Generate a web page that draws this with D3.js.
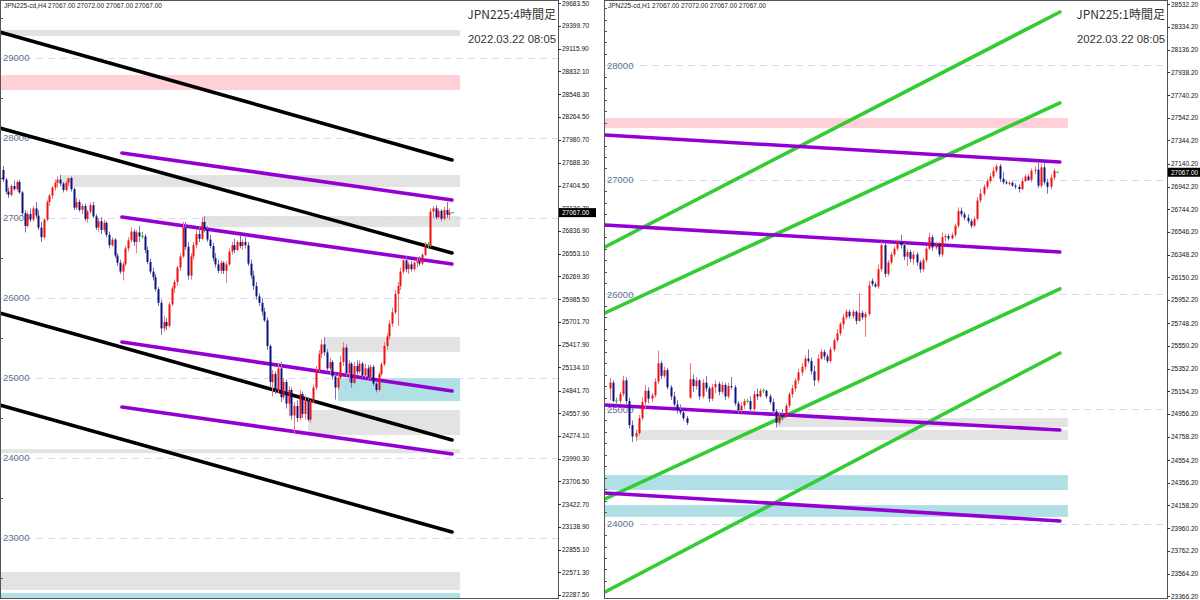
<!DOCTYPE html>
<html><head><meta charset="utf-8">
<script src="https://cdn.jsdelivr.net/npm/d3@7"></script>
<style>html,body{margin:0;padding:0;background:#fff;overflow:hidden}svg{display:block}</style>
</head><body>
<svg id="c" width="1200" height="600"></svg>
<script>
// ---------------- H4 panel data ----------------
const h4Open = [27600,27480,27330,27290,27400,27360,27450,27320,27060,26900,27050,26980,27120,27030,26880,26760,26980,27200,
27280,27380,27440,27480,27430,27350,27440,27500,27360,27130,27200,27100,27150,26990,27080,27160,27020,26880,
26960,26850,26940,26790,26660,26730,26530,26440,26330,26420,26620,26720,26830,26700,26820,26770,26770,26600,26450,26330,26260,26110,25940,
25620,25700,25650,25920,26120,26200,26380,26520,26880,26640,26280,26520,26660,26800,26740,26950,26860,26730,26650,26500,26420,26340,26440,26340,26420,26580,26660,26600,26700,
26650,26700,26660,26430,26280,26150,26020,25940,25830,25720,25400,24950,25050,24850,25120,24760,24950,24680,24850,24530,24650,24500,24800,24550,24720,24480,
24700,24880,25100,25300,25420,25320,25120,25200,25020,24880,25000,25200,25380,25060,25180,24940,25150,25080,25180,25030,25120,25010,25140,24930,24850,25050,25170,25400,25520,25680,25820,26050,26150,
26330,26470,26360,26420,26360,26440,26460,26430,26540,26660,26660,27080,27120,27010,27090,26990,27100,27040,27067];
const h4High = [27650,27500,27380,27420,27470,27470,27480,27340,27100,27080,27120,27150,27200,27100,26950,27000,27230,27300,
27400,27480,27520,27540,27450,27470,27500,27520,27380,27250,27230,27180,27180,27100,27190,27200,27050,27000,
27010,26980,26960,26830,26760,26750,26560,26480,26450,26650,26760,26880,26860,26850,26900,26830,26800,26640,26490,26380,26300,26140,25980,
25780,25750,25950,26150,26230,26400,26560,26950,26950,26700,26560,26700,26850,26900,27010,27020,26900,26790,26690,26560,26480,26470,26460,26460,26620,26700,26740,26720,26780,
26730,26760,26700,26480,26340,26200,26060,26000,25880,25760,25420,25100,25080,25180,25200,25000,24980,24900,24880,24700,24720,24850,24830,24780,24760,24720,
24920,25150,25350,25480,25510,25360,25250,25220,25060,25050,25280,25450,25420,25220,25200,25200,25220,25220,25200,25180,25160,25170,25160,24960,25080,25200,25450,25560,25720,25880,26100,26200,26380,
26500,26520,26450,26460,26470,26500,26520,26560,26700,26700,27120,27150,27160,27120,27110,27140,27200,27120,27072];
const h4Low = [27450,27300,27250,27270,27340,27330,27300,27020,26820,26880,26950,26950,27000,26850,26700,26740,26960,27150,
27240,27340,27380,27400,27320,27330,27400,27330,27100,27100,27080,27050,26960,26940,27050,27000,26850,26830,
26800,26820,26760,26620,26640,26500,26400,26300,26220,26400,26580,26690,26650,26560,26700,26740,26560,26420,26300,26220,26080,25900,25540,
25580,25600,25630,25900,26060,26150,26340,26500,26600,26230,26230,26480,26620,26700,26720,26820,26700,26620,26460,26380,26310,26300,26300,26190,26400,26540,26560,26580,26620,
26600,26620,26400,26240,26100,25980,25900,25780,25700,25350,24880,24770,24800,24800,24700,24730,24620,24520,24480,24300,24450,24470,24500,24480,24460,24440,
24680,24850,25080,25250,25280,25080,25050,24980,24730,24850,24980,25150,25020,24950,24880,24920,25040,25060,25000,25000,24980,24990,24900,24820,24830,25020,25150,25350,25480,25640,25800,25650,26100,
26300,26320,26300,26330,26340,26380,26400,26410,26520,26620,26640,27000,26980,26990,26960,26970,27000,26980,27067];
const h4Close = [27480,27330,27290,27400,27360,27450,27320,27060,26900,27050,26980,27120,27030,26880,26760,26980,27200,27280,
27380,27440,27480,27430,27350,27440,27500,27360,27130,27200,27100,27150,26990,27080,27160,27020,26880,26960,
26850,26940,26790,26660,26730,26530,26440,26330,26420,26620,26720,26830,26700,26820,26770,26770,26600,26450,26330,26260,26110,25940,25620,
25700,25650,25920,26120,26200,26380,26520,26880,26640,26280,26520,26660,26800,26740,26950,26860,26730,26650,26500,26420,26340,26440,26340,26420,26580,26660,26600,26700,26650,
26700,26660,26430,26280,26150,26020,25940,25830,25720,25400,24950,25050,24850,25120,24760,24950,24680,24850,24530,24650,24500,24800,24550,24720,24480,24700,
24880,25100,25300,25420,25320,25120,25200,25020,24880,25000,25200,25380,25060,25180,24940,25150,25080,25180,25030,25120,25010,25140,24930,24850,25050,25170,25400,25520,25680,25820,26050,26150,26330,
26470,26360,26420,26360,26440,26460,26430,26540,26660,26660,27080,27120,27010,27090,26990,27100,27040,27067,27067];
const h4AxisLabels = ['29683.50','29399.70','29115.90','28832.10','28548.30','28264.50','27980.70','27688.30','27404.50','27120.70','26836.90','26553.10','26269.30','25985.50','25701.70','25417.90','25134.10','24841.70','24557.90','24274.10','23990.30','23706.50','23422.70','23138.90','22855.10','22571.30','22287.50'];
const h4Levels = [29000,28000,27000,26000,25000,24000,23000];
// trend lines: [barIndex1, price1, barIndex2, price2]
const h4BlackLines = [[-1.1,29325,165,27725],[-1.1,28125,165,26562],[-1.1,25812,165,24225],[-1.1,24662,165,23075]];
const h4PurpleLines = [[43.7,27812,165,27225],[43.7,27012,165,26425],[43.7,25450,165,24837],[43.7,24637,165,24050]];
// zones: [barStart, barEnd, priceLow, priceHigh, kind]
const h4Zones = [[-1.1,168,29275,29350,'gray'],[-1.1,168,28600,28787,'pink'],[20.9,168,27387,27537,'gray'],[73.5,168,26887,27025,'gray'],
[118.3,168,25325,25512,'gray'],[123.1,168,24712,25000,'cyan'],[112.1,168,24287,24600,'gray'],[-1.1,168,24060,24110,'gray'],
[-1.1,168,22350,22575,'gray'],[-1.1,168,22240,22312,'cyan']];

// ---------------- H1 panel data ----------------
const h1Open = [25180,25230,25070,25070,25130,25250,25070,24860,24760,24790,24920,25060,25160,25090,25120,25240,25400,25290,25340,25190,25110,25040,24990,24970,24920,
25100,25260,25200,25250,25110,25230,25180,25090,25190,25220,25150,25210,25110,25200,25190,25050,24990,25030,25070,25070,25000,25130,25110,25160,25160,
25110,25060,24980,24880,24950,24930,25030,25130,25180,25250,25320,25370,25440,25420,25330,25250,25440,25500,25460,25420,25520,25600,25660,25740,25800,
25850,25810,25850,25770,25840,25800,25830,26120,26090,26070,26220,26430,26180,26280,26350,26400,26460,26430,26330,26370,26310,26350,26280,26220,26300,
26400,26500,26410,26440,26350,26500,26510,26490,26520,26600,26730,26700,26670,26640,26600,26660,26820,26880,26940,26990,27030,27080,27120,27010,26980,
26970,26975,26950,26940,26920,26990,27030,27000,27080,27090,26950,27110,26980,26940,27020,27067];
const h1High = [25270,25250,25100,25150,25290,25280,25100,24900,24820,24950,25100,25210,25190,25140,25270,25510,25420,25370,25360,25210,25150,25080,25040,24990,24940,
25400,25300,25280,25260,25260,25290,25200,25220,25250,25240,25240,25230,25230,25280,25210,25070,25060,25090,25090,25110,25160,25180,25180,25180,25170,
25130,25090,25000,24980,25000,25050,25150,25210,25270,25350,25400,25470,25520,25450,25380,25480,25520,25520,25480,25540,25620,25700,25760,25830,25870,
25870,25870,25860,26010,25860,25850,26120,26140,26110,26260,26460,26450,26300,26370,26420,26480,26520,26450,26400,26390,26380,26370,26300,26320,26420,
26540,26520,26460,26460,26540,26530,26530,26540,26620,26760,26760,26720,26700,26660,26680,26850,26920,26960,27010,27060,27110,27140,27140,27070,27000,
26990,26990,26970,26960,27020,27050,27050,27100,27120,27160,27140,27150,27010,27050,27100,27072];
const h1Low = [25080,25060,25040,25050,25110,25040,24830,24710,24720,24770,24900,25000,25050,25060,25100,25220,25260,25270,25170,25080,25010,24960,24950,24900,24860,
25090,25150,25170,25080,25090,25150,25060,25070,25140,25120,25130,25080,25090,25170,25030,24960,24970,25000,25050,24970,24980,25080,25100,25140,25090,
25040,24950,24840,24860,24900,24920,25010,25100,25150,25220,25290,25340,25400,25300,25200,25230,25430,25430,25400,25400,25500,25580,25640,25700,25780,
25790,25790,25740,25760,25780,25630,25810,26070,26060,26050,26200,26150,26160,26260,26330,26380,26400,26300,26250,26280,26260,26250,26190,26200,26280,
26390,26380,26390,26330,26330,26460,26470,26480,26500,26580,26680,26650,26620,26580,26590,26640,26800,26860,26920,26970,27010,27060,26980,26960,26960,
26950,26940,26920,26890,26910,26980,26990,26980,27050,26930,26930,26960,26880,26920,27000,27067];
const h1Close = [25230,25070,25070,25130,25250,25070,24860,24760,24790,24920,25060,25160,25090,25120,25240,25400,25290,25340,25190,25110,25040,24990,24970,24920,24880,
25260,25200,25250,25110,25230,25180,25090,25190,25220,25150,25210,25110,25200,25190,25050,24990,25030,25070,25070,25000,25130,25110,25160,25160,25110,
25060,24980,24880,24950,24930,25030,25130,25180,25250,25320,25370,25440,25420,25330,25250,25440,25500,25460,25420,25520,25600,25660,25740,25800,25850,
25810,25850,25770,25840,25800,25830,26080,26090,26070,26220,26430,26180,26280,26350,26400,26460,26430,26330,26370,26310,26350,26280,26220,26300,26400,
26500,26410,26440,26350,26500,26510,26490,26520,26600,26730,26700,26670,26640,26600,26660,26820,26880,26940,26990,27030,27080,27120,27010,26980,26970,
26975,26950,26940,26920,26990,27030,27000,27080,27090,26950,27110,26980,26940,27020,27080,27067];
const h1AxisLabels = ['28532.20','28334.20','28136.20','27938.20','27740.20','27542.20','27344.20','27140.20','26942.20','26744.20','26546.20','26348.20','26150.20','25952.20','25748.20','25550.20','25352.20','25154.20','24956.20','24758.20','24554.20','24356.20','24158.20','23960.20','23762.20','23564.20','23366.20'];
const h1Levels = [28000,27000,26000,25000,24000];
const h1GreenLines = [[-1.57,26415,140.9,28466],[-1.57,25839,140.9,27672],[-1.57,24215,140.9,26048],[-1.57,23403,140.9,25489]];
const h1PurpleLines = [[-1.57,27392,140.9,27157],[-1.57,26607,140.9,26371],[-1.57,25035,140.9,24817],[-1.57,24267,140.9,24023]];
const h1Zones = [[-1.57,143.4,27454,27541,'pink'],[52.0,143.4,24843,24922,'gray'],[8.1,143.4,24730,24817,'gray'],
[-1.57,143.4,24293,24424,'cyan'],[-1.57,143.4,24058,24162,'cyan']];

const lastPrice = 27067;
const headerOHLC = '27067.00 27072.00 27067.00 27067.00';

// ---------------- drawing ----------------
const svg = d3.select('#c');
svg.append('rect').attr('width',1200).attr('height',600).attr('fill','#fff');
const zoneFill = {gray:'#e3e3e3', pink:'#ffd0d8', cyan:'#b0e0e6'};
const axisFont = 'Liberation Sans, Arial, sans-serif';

function drawPanel(cfg){
  const y = d3.scaleLinear().domain(cfg.yDomain).range(cfg.yRange);
  const x = d3.scaleLinear().domain([0, cfg.open.length-1]).range(cfg.xRange);
  const g = svg.append('g');
  const clipId = 'clip-'+cfg.name;
  svg.append('clipPath').attr('id',clipId).append('rect')
    .attr('x',cfg.left+1).attr('y',cfg.top+1).attr('width',cfg.axisX-cfg.left-1).attr('height',cfg.bottom-cfg.top-1);
  const plot = g.append('g').attr('clip-path',`url(#${clipId})`);

  // zones
  plot.selectAll('rect.zone').data(cfg.zones).join('rect').attr('class','zone')
    .attr('x',d=>x(d[0])).attr('width',d=>x(d[1])-x(d[0]))
    .attr('y',d=>y(d[3])).attr('height',d=>y(d[2])-y(d[3]))
    .attr('fill',d=>zoneFill[d[4]]);

  // grid dashed lines + level labels
  plot.selectAll('line.grid').data(cfg.levels).join('line').attr('class','grid')
    .attr('x1',cfg.left).attr('x2',cfg.axisX).attr('y1',d=>Math.round(y(d))+0.5).attr('y2',d=>Math.round(y(d))+0.5)
    .attr('stroke','#d8d8f4').attr('stroke-width',1).attr('stroke-dasharray','7,5');
  plot.selectAll('text.lvl').data(cfg.levels).join('text').attr('class','lvl')
    .attr('x',cfg.left+3).attr('y',d=>y(d)+3.5).text(d=>d)
    .attr('font-family',axisFont).attr('font-size',9.5).attr('fill','#5d7390');
  // left edge ticks
  plot.selectAll('line.ltick').data(cfg.edgeTicks).join('line').attr('class','ltick')
    .attr('x1',cfg.left).attr('x2',cfg.left+3).attr('y1',d=>Math.round(y(d))+0.5).attr('y2',d=>Math.round(y(d))+0.5)
    .attr('stroke','#555');

  // trend lines
  cfg.lines.forEach(set=>{
    plot.selectAll(null).data(set.data).join('line')
      .attr('x1',d=>x(d[0])).attr('y1',d=>y(d[1])).attr('x2',d=>x(d[2])).attr('y2',d=>y(d[3]))
      .attr('stroke',set.color).attr('stroke-width',3.6).attr('stroke-linecap','round');
  });

  // candles
  const idx = d3.range(cfg.open.length);
  const bw = cfg.bodyW;
  const cg = plot.append('g');
  idx.forEach(i=>{
    const o=cfg.open[i], h=cfg.high[i], l=cfg.low[i], c=cfg.close[i];
    const xc = Math.round(x(i));
    const up = c>o, dn = c<o;
    const wick = up? '#f07878' : dn? '#7474b8' : '#33cc33';
    const body = up? '#ee1111' : dn? '#101080' : '#33cc33';
    cg.append('rect').attr('x',xc).attr('width',1).attr('y',y(h)).attr('height',Math.max(1,y(l)-y(h))).attr('fill',wick);
    if(up||dn){
      cg.append('rect').attr('x',xc-bw/2+0.5).attr('width',bw)
        .attr('y',y(Math.max(o,c))).attr('height',Math.max(1,Math.abs(y(o)-y(c)))).attr('fill',body);
    } else {
      cg.append('rect').attr('x',xc-1).attr('width',3).attr('y',y(o)-0.5).attr('height',1).attr('fill',body);
    }
  });

  // frame
  g.append('rect').attr('x',cfg.left+0.5).attr('y',cfg.top+0.5).attr('width',cfg.axisX-cfg.left).attr('height',cfg.bottom-cfg.top)
    .attr('fill','none').attr('stroke','#555').attr('stroke-width',1);
  // axis ticks and labels
  const ax = g.append('g');
  ax.selectAll('line').data(cfg.axisLabels).join('line')
    .attr('x1',cfg.axisX).attr('x2',cfg.axisX+3).attr('y1',d=>Math.round(y(+d))+0.5).attr('y2',d=>Math.round(y(+d))+0.5).attr('stroke','#333');
  ax.selectAll('text').data(cfg.axisLabels).join('text')
    .attr('x',cfg.axisX+4).attr('y',d=>y(+d)+2.4).text(d=>d)
    .attr('font-family',axisFont).attr('font-size',6.5).attr('fill','#111');
  // current price box
  const py = y(lastPrice);
  g.append('rect').attr('x',cfg.axisX+1).attr('y',py-4.5).attr('width',Math.min(37,1200-cfg.axisX-1)).attr('height',9).attr('fill','#000');
  g.append('text').attr('x',cfg.axisX+4).attr('y',py+2.4).text(lastPrice.toFixed(2))
    .attr('font-family',axisFont).attr('font-size',6.5).attr('fill','#fff');
  // header
  g.append('text').attr('x',cfg.left+4).attr('y',cfg.top+8).text(cfg.header)
    .attr('font-family',axisFont).attr('font-size',6.5).attr('fill','#222');
  g.append('text').attr('x',cfg.axisX-2).attr('y',cfg.top+19).attr('text-anchor','end').text(cfg.title)
    .attr('font-family','Noto Sans CJK JP, sans-serif').attr('font-size',12).attr('fill','#333');
  g.append('text').attr('x',cfg.axisX-2).attr('y',cfg.top+43).attr('text-anchor','end').text(cfg.stamp)
    .attr('font-family',axisFont).attr('font-size',11.3).attr('fill','#333');
}

const h4Edge = d3.range(22500, 29600, 1000);
const h1Edge = d3.range(23400, 28600, 100).filter(v=>v%1000!==0);

drawPanel({name:'h4', left:0, top:0, bottom:598, axisX:558,
  yDomain:[22287.5,29683.5], yRange:[595,3.3], xRange:[3,452],
  open:h4Open, high:h4High, low:h4Low, close:h4Close, bodyW:2,
  zones:h4Zones, levels:h4Levels, edgeTicks:h4Edge,
  lines:[{data:h4BlackLines,color:'#000'},{data:h4PurpleLines,color:'#9400d3'}],
  axisLabels:h4AxisLabels, header:'JPN225-cd,H4  '+headerOHLC, title:'JPN225:4時間足', stamp:'2022.03.22 08:05'});

drawPanel({name:'h1', left:604, top:0, bottom:598, axisX:1167,
  yDomain:[23366.2,28532.2], yRange:[596.2,4.4], xRange:[610,1057],
  open:h1Open, high:h1High, low:h1Low, close:h1Close, bodyW:2,
  zones:h1Zones, levels:h1Levels, edgeTicks:h1Edge,
  lines:[{data:h1GreenLines,color:'#33cc33'},{data:h1PurpleLines,color:'#9400d3'}],
  axisLabels:h1AxisLabels, header:'JPN225-cd,H1  '+headerOHLC, title:'JPN225:1時間足', stamp:'2022.03.22 08:05'});
</script>
</body></html>
